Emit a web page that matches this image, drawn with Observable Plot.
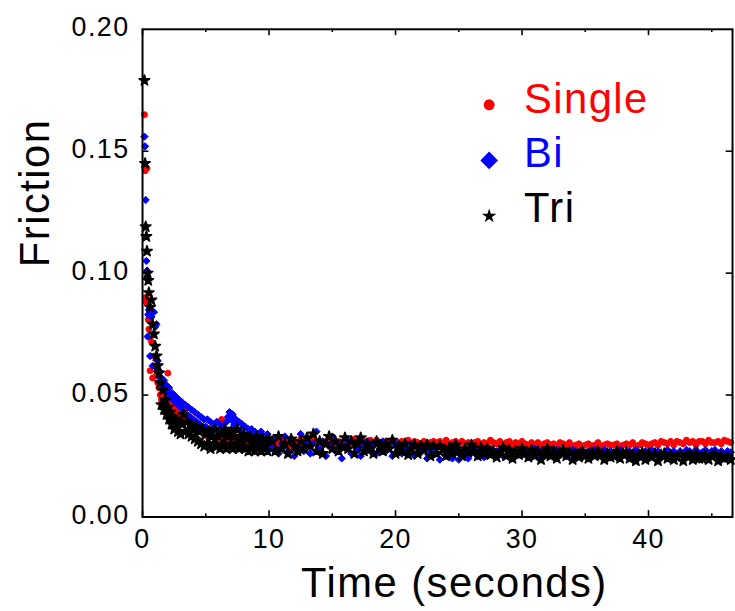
<!DOCTYPE html>
<html>
<head>
<meta charset="utf-8">
<script src="https://cdn.jsdelivr.net/npm/d3@7"></script>
<script src="https://cdn.jsdelivr.net/npm/@observablehq/plot@0.6"></script>
<style>
html, body { margin: 0; padding: 0; overflow: hidden; background: #fff; }
#chart svg { display: block; font-family: "Liberation Sans", Arial, sans-serif; }
</style>
</head>
<body>
<div id="chart"></div>
<script>
// ---- tick values ----
const xMajor = [0, 10, 20, 30, 40];
const xMinor = [5, 15, 25, 35, 45];
const yTicks = [0, 0.05, 0.10, 0.15, 0.20];
const yInner = [0.05, 0.10, 0.15];

// ---- series ----
const seriesNames = ["Single", "Bi", "Tri"];
const seriesColors = ["#ff0000", "#0000ff", "#000000"];
const seriesSymbols = ["circle", "diamond2", "star"];

// time (seconds), shared by the three series
const time = [
  0.15,0.2,0.25,0.3,0.35,0.4,0.45,0.5,
  0.6,0.7,0.8,0.9,1.0,1.1,1.2,1.3,1.4,1.5,1.6,1.7,1.8,1.9,2.0,2.1,2.2,2.3,2.4,2.5,2.6,2.7,2.8,2.9,3.0,
  3.125,3.25,3.375,3.5,3.625,3.75,3.875,4,4.125,4.25,4.375,4.5,4.625,4.75,4.875,5,
  5.125,5.25,5.375,5.5,5.625,5.75,5.875,6,6.125,6.25,6.375,6.5,6.625,6.75,6.875,7,
  7.125,7.25,7.375,7.5,7.625,7.75,7.875,8,8.125,8.25,8.375,8.5,8.625,8.75,8.875,9,
  9.125,9.25,9.375,9.5,9.625,9.75,9.875,10,
  10.25,10.5,10.75,11,11.25,11.5,11.75,12,12.25,12.5,12.75,13,13.25,13.5,13.75,14,14.25,14.5,14.75,15,
  15.25,15.5,15.75,16,16.25,16.5,16.75,17,17.25,17.5,17.75,18,18.25,18.5,18.75,19,19.25,19.5,19.75,20,
  20.25,20.5,20.75,21,21.25,21.5,21.75,22,22.25,22.5,22.75,23,23.25,23.5,23.75,24,24.25,24.5,24.75,25,
  25.25,25.5,25.75,26,26.25,26.5,26.75,27,27.25,27.5,27.75,28,28.25,28.5,28.75,29,29.25,29.5,29.75,30,
  30.25,30.5,30.75,31,31.25,31.5,31.75,32,32.25,32.5,32.75,33,33.25,33.5,33.75,34,34.25,34.5,34.75,35,
  35.25,35.5,35.75,36,36.25,36.5,36.75,37,37.25,37.5,37.75,38,38.25,38.5,38.75,39,39.25,39.5,39.75,40,
  40.25,40.5,40.75,41,41.25,41.5,41.75,42,42.25,42.5,42.75,43,43.25,43.5,43.75,44,44.25,44.5,44.75,45,
  45.25,45.5,45.75,46,46.25,46.5
];

const single = [
  0.165,0.142,0.090,0.088,0.143,0.098,0.081,0.077,
  0.060,0.072,0.057,0.066,0.062,0.058,0.055,0.053,0.050,0.048,0.051,0.046,0.049,0.045,0.059,0.044,0.047,0.043,0.045,0.042,0.044,0.041,0.043,0.040,0.042,
  0.042,0.040,0.044,0.045,0.039,0.041,0.038,0.040, 0.037,0.039,0.036,0.038,0.035,0.037,0.034,0.036,
  0.033,0.035,0.034,0.036,0.033,0.035,0.032,0.034, 0.036,0.040,0.034,0.033,0.035,0.032,0.034,0.031,
  0.033,0.031,0.033,0.030,0.032,0.031,0.033,0.030, 0.032,0.030,0.032,0.031,0.030,0.032,0.029,0.031,
  0.030,0.032,0.029,0.031,0.030,0.029,0.031,0.030,
  0.031,0.0295,0.0305,0.032, 0.030,0.0315,0.029,0.031, 0.0305,0.032,0.0295,0.031, 0.030,0.0315,0.031,0.0295, 0.031,0.030,0.032,0.0305,
  0.0295,0.031,0.0305,0.030, 0.031,0.0295,0.032,0.030, 0.0305,0.031,0.0295,0.0315, 0.030,0.0315,0.0305,0.029, 0.031,0.0305,0.0315,0.030,
  0.0305,0.031,0.0295,0.0315, 0.030,0.031,0.0305,0.0295, 0.031,0.0295,0.0305,0.031, 0.0305,0.031,0.030,0.0315, 0.0295,0.0305,0.031,0.030,
  0.031,0.030,0.0305,0.0295, 0.0305,0.031,0.0295,0.0305, 0.030,0.0315,0.0305,0.030, 0.031,0.0295,0.0305,0.031, 0.0295,0.0305,0.030,0.031,
  0.030,0.0295,0.0305,0.0295, 0.0305,0.029,0.030,0.0305, 0.0295,0.030,0.029,0.0305, 0.030,0.0295,0.0305,0.029, 0.0295,0.030,0.029,0.0295,
  0.030,0.029,0.0295,0.0305, 0.029,0.0295,0.030,0.0295, 0.0295,0.030,0.029,0.0295, 0.030,0.0295,0.0305,0.029, 0.0295,0.0305,0.030,0.0295,
  0.030,0.0305,0.0295,0.031, 0.0305,0.030,0.031,0.0295, 0.031,0.0305,0.030,0.0315, 0.0305,0.031,0.0295,0.031, 0.031,0.030,0.0315,0.0305,
  0.0305,0.031,0.030,0.0315, 0.031,0.0305
];

const bi = [
  0.156,0.152,0.130,0.105,0.101,0.074,0.083,0.085,
  0.066,0.082,0.062,0.084,0.078,0.079,0.064,0.060,0.057,0.057,0.054,0.056,0.052,0.054,0.051,0.053,0.049,0.051,0.048,0.050,0.047,0.049,0.046,0.048,0.045,
  0.047,0.043,0.046,0.042,0.045,0.041,0.044,0.040, 0.043,0.039,0.042,0.038,0.041,0.037,0.040,0.037,
  0.040,0.036,0.039,0.035,0.038,0.036,0.039,0.035, 0.038,0.034,0.037,0.035,0.039,0.041,0.043,0.040,
  0.042,0.038,0.040,0.036,0.039,0.035,0.038,0.034, 0.037,0.033,0.036,0.034,0.036,0.032,0.035,0.031,
  0.034,0.032,0.035,0.030,0.033,0.031,0.034,0.030,
  0.028,0.032,0.026,0.030, 0.033,0.027,0.031,0.025, 0.029,0.034,0.027,0.031, 0.026,0.030,0.035,0.028, 0.031,0.025,0.029,0.033,
  0.027,0.030,0.024,0.029, 0.031,0.026,0.030,0.028, 0.025,0.029,0.031,0.027, 0.030,0.026,0.028,0.031, 0.027,0.029,0.025,0.030,
  0.028,0.026,0.029,0.027, 0.030,0.025,0.028,0.0265, 0.029,0.024,0.027,0.0285, 0.026,0.0235,0.028,0.025, 0.0275,0.024,0.029,0.0235,
  0.026,0.028,0.024,0.027, 0.0285,0.025,0.027,0.0245, 0.026,0.028,0.025,0.027, 0.0275,0.025,0.028,0.026, 0.025,0.027,0.0255,0.028,
  0.027,0.0245,0.0265,0.028, 0.0255,0.027,0.025,0.0275, 0.0265,0.025,0.0275,0.0255, 0.027,0.025,0.026,0.0275, 0.0255,0.027,0.0245,0.026,
  0.027,0.0255,0.0275,0.025, 0.026,0.0275,0.025,0.027, 0.0265,0.025,0.0275,0.026, 0.025,0.027,0.0255,0.0275, 0.0265,0.025,0.027,0.026,
  0.0275,0.0255,0.027,0.025, 0.026,0.0275,0.0255,0.027, 0.0255,0.027,0.026,0.0275, 0.027,0.025,0.0275,0.026, 0.0265,0.0275,0.025,0.027,
  0.0275,0.026,0.027,0.0255, 0.027,0.0265
];

const tri = [
  0.179,0.145,0.119,0.115,0.109,0.100,0.097,0.092,
  0.086,0.089,0.079,0.075,0.070,0.066,0.062,0.059,0.055,0.046,0.052,0.044,0.048,0.042,0.045,0.040,0.043,0.038,0.041,0.036,0.040,0.037,0.035,0.039,0.034,
  0.038,0.042,0.035,0.039,0.034,0.038,0.033,0.036, 0.032,0.037,0.031,0.035,0.030,0.036,0.029,0.034,
  0.030,0.035,0.028,0.033,0.030,0.036,0.029,0.033, 0.028,0.034,0.030,0.036,0.028,0.033,0.029,0.035,
  0.028,0.033,0.030,0.036,0.028,0.032,0.029,0.034, 0.028,0.032,0.027,0.033,0.029,0.031,0.027,0.033,
  0.028,0.031,0.027,0.032,0.029,0.031,0.027,0.032,
  0.031,0.027,0.033,0.028, 0.030,0.026,0.032,0.029, 0.027,0.031,0.028,0.0325, 0.029,0.034,0.027,0.031, 0.026,0.030,0.033,0.028,
  0.031,0.027,0.029,0.0325, 0.028,0.031,0.026,0.030, 0.0325,0.027,0.030,0.028, 0.026,0.031,0.029,0.027, 0.030,0.028,0.0315,0.026,
  0.029,0.027,0.030,0.0255, 0.028,0.0295,0.026,0.029, 0.0275,0.0295,0.025,0.029, 0.026,0.029,0.0275,0.025, 0.0285,0.026,0.0295,0.027,
  0.025,0.028,0.0265,0.0295, 0.027,0.025,0.0285,0.026, 0.028,0.0255,0.027,0.0245, 0.0265,0.0285,0.025,0.0275, 0.024,0.027,0.0255,0.028,
  0.026,0.0245,0.0275,0.025, 0.027,0.0235,0.026,0.028, 0.025,0.027,0.024,0.0265, 0.0275,0.025,0.0265,0.0235, 0.026,0.0245,0.027,0.025,
  0.024,0.0265,0.025,0.027, 0.0255,0.0235,0.026,0.0245, 0.025,0.027,0.024,0.026, 0.0265,0.024,0.0255,0.023, 0.025,0.0265,0.0235,0.026,
  0.0245,0.026,0.023,0.0255, 0.026,0.024,0.0255,0.0235, 0.0245,0.0255,0.023,0.025, 0.0255,0.0235,0.026,0.024, 0.024,0.0255,0.0235,0.025,
  0.0255,0.023,0.025,0.024, 0.0245,0.0235
];

const seriesValues = [single, bi, tri];
const dataMarkerR = [3.0, 3.3, 3.3];
const dataStrokeW = [1.0, 1.0, 1.6];
const legendMarkerR = [5.5, 8, 4.6];

// ---- build rows ----
const rows = seriesValues.map((vals, s) =>
  time.map((t, i) => ({t, v: vals[i], series: seriesNames[s]}))
);

const XMAX = 46.64;
const FONT = "Liberation Sans, Arial, sans-serif";

const marks = [];

// data points (Single first, Tri on top)
rows.forEach((r, s) => {
  marks.push(Plot.dot(r, {
    x: "t", y: "v",
    symbol: () => seriesSymbols[s],
    r: dataMarkerR[s],
    fill: seriesColors[s],
    stroke: seriesColors[s],
    strokeWidth: dataStrokeW[s],
    strokeLinejoin: "round"
  }));
});

// frame
marks.push(Plot.frame({stroke: "black", strokeWidth: 2}));

// inward ticks: bottom & top
marks.push(Plot.ruleX(xMajor, {x: d => d, y1: 0, y2: 0.0026, stroke: "black", strokeWidth: 1.6}));
marks.push(Plot.ruleX(xMinor, {x: d => d, y1: 0, y2: 0.0013, stroke: "black", strokeWidth: 1.6}));
marks.push(Plot.ruleX(xMajor, {x: d => d, y1: 0.2, y2: 0.2 - 0.0026, stroke: "black", strokeWidth: 1.6}));
marks.push(Plot.ruleX(xMinor, {x: d => d, y1: 0.2, y2: 0.2 - 0.0013, stroke: "black", strokeWidth: 1.6}));
// inward ticks: left & right
marks.push(Plot.ruleY(yInner, {y: d => d, x1: 0, x2: 0.5, stroke: "black", strokeWidth: 1.6}));
marks.push(Plot.ruleY(yInner, {y: d => d, x1: XMAX, x2: XMAX - 0.5, stroke: "black", strokeWidth: 1.6}));

// tick labels
marks.push(Plot.text(xMajor, {
  x: d => d, frameAnchor: "bottom", dy: 23, lineAnchor: "middle",
  text: d => String(d), fontSize: 27, fill: "black"
}));
marks.push(Plot.text(yTicks, {
  y: d => d, frameAnchor: "left", dx: -13, dy: -2, lineAnchor: "middle", textAnchor: "end",
  text: d => d.toFixed(2), fontSize: 27, fill: "black"
}));

// axis titles
marks.push(Plot.text(["Time (seconds)"], {
  frameAnchor: "bottom", dx: 17, dy: 81, lineAnchor: "bottom",
  text: d => d, fontSize: 42, fill: "black"
}));
marks.push(Plot.text(["Friction"], {
  frameAnchor: "left", dx: -94.5, dy: -6, rotate: -90, lineAnchor: "bottom",
  text: d => d, fontSize: 42, fill: "black"
}));

// legend
seriesNames.forEach((name, s) => {
  marks.push(Plot.dot([name], {
    frameAnchor: "top-left", dx: 349, dy: 76 + 56 * s,
    symbol: () => seriesSymbols[s], r: legendMarkerR[s],
    fill: seriesColors[s], stroke: "none"
  }));
  marks.push(Plot.text([name], {
    frameAnchor: "top-left", dx: 384, dy: 84 + 55 * s, lineAnchor: "bottom", textAnchor: "start",
    text: d => d, fontSize: 42, fill: seriesColors[s]
  }));
});

const chart = Plot.plot({
  width: 740,
  height: 611,
  marginLeft: 143,
  marginRight: 3,
  marginTop: 29,
  marginBottom: 91,
  style: {fontFamily: FONT, background: "white", overflow: "visible"},
  x: {domain: [0, XMAX], axis: null},
  y: {domain: [0, 0.2], axis: null},
  marks
});

d3.select(chart).selectAll("text").style("letter-spacing", "1.5px");
document.getElementById("chart").appendChild(chart);
</script>
</body>
</html>
